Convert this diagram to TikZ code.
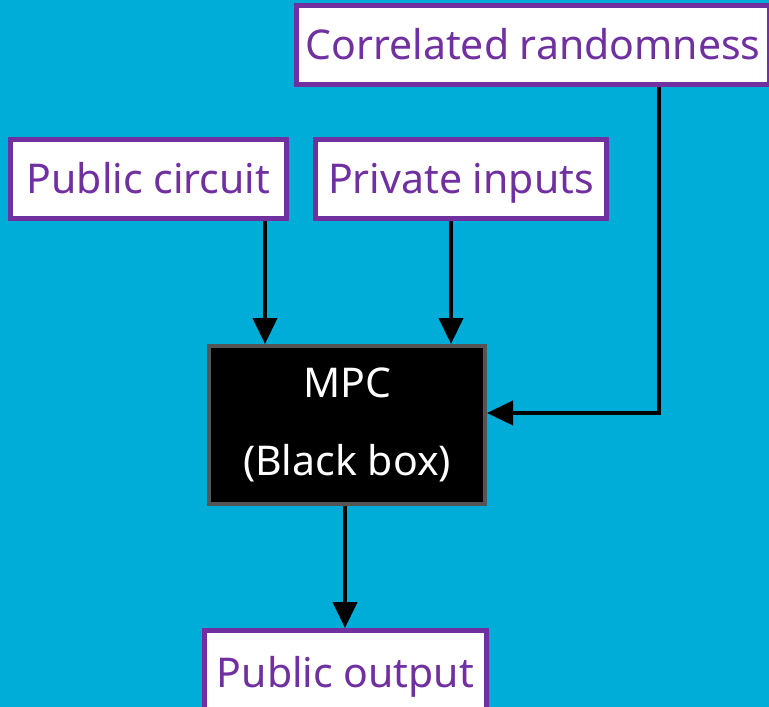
\documentclass[tikz,border=0pt]{standalone}
\usepackage{fontspec}
\setmainfont{Noto Sans}
\usetikzlibrary{arrows.meta,calc}
\definecolor{bgcyan}{RGB}{0,173,216}
\definecolor{boxpurple}{RGB}{112,48,160}
\definecolor{mpcgray}{RGB}{85,85,85}
\pgfdeclarelayer{background}
\pgfsetlayers{background,main}
\tikzset{
  inbox/.style={draw=boxpurple, line width=5pt, fill=white, text=boxpurple,
    inner sep=0pt, text height=29pt, text depth=0pt, font=\fontsize{41}{48}\selectfont},
  mpcbox/.style={draw=mpcgray, line width=4pt, fill=black, text=white,
    inner sep=0pt, align=center, font=\fontsize{41}{78}\selectfont},
  arr/.style={line width=4pt, draw=black, -{Triangle[width=24pt,length=26pt]}}
}
\begin{document}
\begin{tikzpicture}[x=1pt,y=-1pt]
\useasboundingbox (0,0) rectangle (769,707);
\clip (0,0) rectangle (769,707);
\node[inbox, minimum width=473pt, minimum height=79pt] (cr) at (533,45) {Correlated randomness};
\node[inbox, minimum width=276pt, minimum height=79pt] (pc) at (148.5,179) {Public circuit};
\node[inbox, minimum width=291pt, minimum height=79pt] (pi) at (461,179) {Private inputs};
\node[mpcbox, minimum width=276pt, minimum height=158pt] (mpc) at (347,425) {MPC\\(Black box)};
\node[inbox, minimum width=282pt, minimum height=85pt] (po) at (345.5,673) {Public output};
\coordinate (x1) at (265,0);
\coordinate (x2) at (451,0);
\coordinate (x3) at (659,413);
\coordinate (x4) at (345,0);
\begin{pgfonlayer}{background}
\fill[bgcyan] (0,0) rectangle (769,707);
\draw[arr] (pc.south -| x1) -- (mpc.north -| x1);
\draw[arr] (pi.south -| x2) -- (mpc.north -| x2);
\draw[arr] (cr.south -| x3) -- (x3) -- (mpc.east |- x3);
\draw[arr] (mpc.south -| x4) -- (po.north -| x4);
\end{pgfonlayer}
\end{tikzpicture}
\end{document}
